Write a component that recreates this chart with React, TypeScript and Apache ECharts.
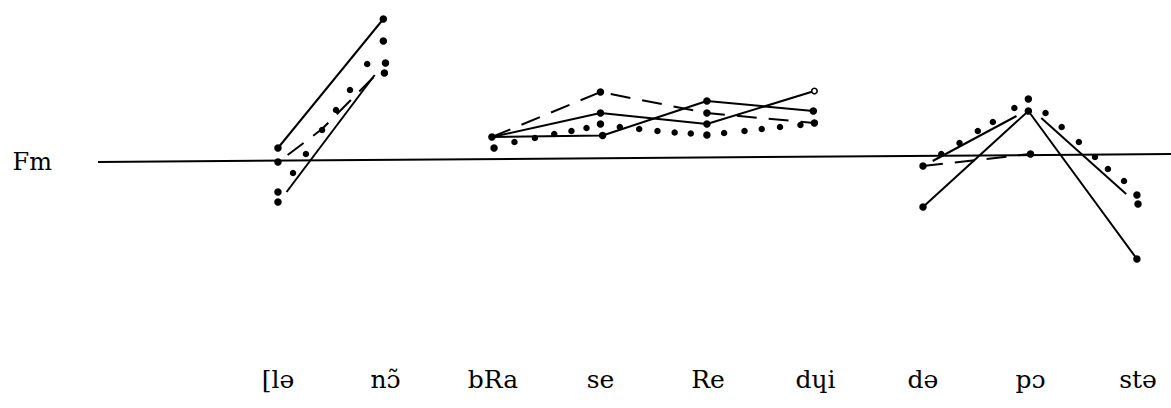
import React, { useEffect, useRef } from "react";
import * as echarts from "echarts";

// Syllable labels (x positions 0..8)
const syllables = ["[lə", "nɔ̃", "bRa", "se", "Re", "dɥi", "də", "pɔ", "stə"];
const syllableTicks = [0, 1, 2, 3, 4, 5, 6, 7, 8];

// Reference line (Fm)
const fmLine = [[-1.674, 0], [8.307, 0.8]];

// Group 1: [lə nɔ̃
const g1SolidA = [[0, 1.4], [0.98, 14.3]];
const g1SolidB = [[0.08, -3.0], [0.9, 8.7]];
const g1Dashed = [[0.09, 0.7], [0.41, 3.3], [0.9, 8.6]];
const g1Dots = [[0, 1.4], [0, 0], [0, -3.0], [0, -4.0], [0.98, 14.3], [0.98, 12.1], [1.0, 9.9], [0.99, 8.9]];
const g1Dotted = [[0.14, -1.1], [0.26, 0.8], [0.41, 3.2], [0.54, 5.2], [0.67, 7.2], [0.83, 9.8]];

// Group 2: bRa se Re dɥi
const g2Solid1 = [[1.99, 2.5], [3.02, 2.65], [3.99, 6.1], [4.98, 5.1]];
const g2Solid2 = [[1.99, 2.5], [3.0, 4.9], [3.99, 3.8], [4.99, 7.1]];
const g2Dashed = [[1.99, 2.5], [3.0, 7.0], [3.99, 4.9], [4.99, 3.9]];
const g2Dots = [[1.99, 2.5], [2.01, 1.4], [3.0, 7.0], [3.0, 4.9], [3.0, 3.8], [3.02, 2.65], [3.99, 6.1], [3.99, 4.9], [3.99, 3.8], [3.99, 2.7], [4.98, 5.1], [4.99, 3.9]];
const g2Open = [[4.99, 7.1]];
const g2Dotted = [[2.2, 2.0], [2.39, 2.4], [2.57, 2.8], [2.73, 3.1], [2.87, 3.4], [3.18, 3.5], [3.36, 3.3], [3.53, 3.1], [3.69, 2.95], [3.84, 2.85], [4.15, 2.9], [4.34, 3.1], [4.5, 3.3], [4.67, 3.5], [4.86, 3.7]];

// Group 3: də pɔ stə
const g3SolidA = [[6.0, -4.5], [6.98, 5.1], [7.99, -9.7]];
const g3SolidB1 = [[6.09, 0.1], [6.87, 4.6]];
const g3SolidB2 = [[7.1, 4.4], [7.89, -3.2]];
const g3Dashed = [[6.0, -0.4], [7.0, 0.8]];
const g3Dots = [[6.0, -0.4], [6.0, -4.5], [6.98, 6.3], [6.98, 5.1], [7.0, 0.8], [7.99, -3.3], [8.0, -4.2], [7.99, -9.7]];
const g3Dotted = [[6.17, 0.8], [6.34, 1.9], [6.51, 3.1], [6.65, 4.0], [6.85, 5.4], [7.14, 4.9], [7.29, 3.5], [7.45, 2.0], [7.6, 0.5], [7.72, -0.7], [7.87, -1.9]];

const solidLines = [g1SolidA, g1SolidB, g2Solid1, g2Solid2, g3SolidA, g3SolidB1, g3SolidB2];
const dashedLines = [g1Dashed, g2Dashed, g3Dashed];

const INK = "#000";
const SERIF = "'DejaVu Serif', 'Liberation Serif', serif";

export default function App() {
  const ref = useRef<HTMLDivElement>(null);
  useEffect(() => {
    if (!ref.current) return;
    const chart = echarts.init(ref.current, null, { renderer: "svg" });
    const series: any[] = [];
    series.push({
      type: "line",
      name: "Fm",
      data: fmLine,
      showSymbol: false,
      lineStyle: { color: INK, width: 2 },
      silent: true,
      z: 1,
    });
    solidLines.forEach((d, i) =>
      series.push({
        type: "line",
        name: "solid" + i,
        data: d,
        showSymbol: false,
        lineStyle: { color: INK, width: 2 },
        z: 2,
      })
    );
    dashedLines.forEach((d, i) =>
      series.push({
        type: "line",
        name: "dashed" + i,
        data: d,
        showSymbol: false,
        lineStyle: { color: INK, width: 2, type: [20, 12] },
        z: 2,
      })
    );
    series.push({
      type: "scatter",
      name: "points",
      data: [...g1Dots, ...g2Dots, ...g3Dots],
      symbol: "circle",
      symbolSize: 7.5,
      itemStyle: { color: INK, opacity: 1 },
      z: 3,
    });
    series.push({
      type: "scatter",
      name: "dotted",
      data: [...g1Dotted, ...g2Dotted, ...g3Dotted],
      symbol: "circle",
      symbolSize: 6.5,
      itemStyle: { color: INK, opacity: 1 },
      z: 3,
    });
    series.push({
      type: "scatter",
      name: "open",
      data: g2Open,
      symbol: "circle",
      symbolSize: 5.5,
      itemStyle: { color: "#fff", borderColor: INK, borderWidth: 1.6, opacity: 1 },
      z: 3,
    });
    chart.setOption({
      animation: false,
      backgroundColor: "#fff",
      grid: { left: 98, right: 0, top: 12, height: 300, outerBoundsMode: "none" },
      xAxis: {
        type: "value",
        min: -1.674,
        max: 8.307,
        axisLine: { show: false },
        axisTick: { show: false },
        splitLine: { show: false },
        axisLabel: {
          customValues: syllableTicks,
          formatter: (v: number) => syllables[Math.round(v)] ?? "",
          margin: 55,
          fontFamily: SERIF,
          fontSize: 25,
          color: INK,
        },
      },
      yAxis: {
        type: "value",
        min: -15,
        max: 15,
        interval: 15,
        axisLine: { show: false },
        axisTick: { show: false },
        splitLine: { show: false },
        axisLabel: {
          formatter: (v: number) => (v === 0 ? "Fm" : ""),
          margin: 46,
          fontFamily: SERIF,
          fontSize: 24,
          color: INK,
        },
      },
      series,
    });
    return () => chart.dispose();
  }, []);
  return (
    <div
      ref={ref}
      style={{ position: "fixed", left: 0, top: 0, width: 1171, height: 408, background: "#fff" }}
    />
  );
}
